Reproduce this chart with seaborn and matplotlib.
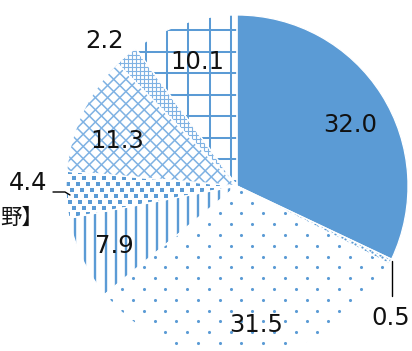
import numpy as np
import matplotlib
matplotlib.use("Agg")
import matplotlib.pyplot as plt
from matplotlib.collections import LineCollection
from matplotlib.patches import Wedge
import seaborn as sns

# Shares (%) going clockwise from 12 o'clock
shares = [32.0, 0.5, 31.5, 7.9, 4.4, 11.3, 2.2, 10.1]
share_labels = ["32.0", "0.5", "31.5", "7.9", "4.4", "11.3", "2.2", "10.1"]
fills = ["solid", "fine_dots", "dots", "vlines", "squares", "diag_cross", "fine_grid", "grid"]
side_label = "野】"

sns.set_theme(style="white")
plt.rcParams["font.family"] = ["DejaVu Sans", "Noto Sans CJK JP"]

W, H = 412, 351
BLUE = "#5B9BD5"
LIGHT = "#7FB2E3"

fig = plt.figure(figsize=(W / 100, H / 100), dpi=100)
ax = fig.add_axes([0, 0, 1, 1])


def py(y):
    """pixel row (top-down) -> data y (bottom-up)"""
    return H - np.asarray(y, dtype=float)


cx, cy, R = 237, py(186), 171
wedges, _ = ax.pie(shares, startangle=90, counterclock=False, center=(cx, cy), radius=R,
                   colors=["white"] * len(shares),
                   wedgeprops=dict(edgecolor="none", linewidth=0))
ax.set_xlim(0, W)
ax.set_ylim(0, H)
ax.set_aspect("equal")
ax.axis("off")


def add_lines(wedge, segs, color, lw):
    lc = LineCollection(segs, colors=color, linewidths=lw, zorder=2, capstyle="butt")
    ax.add_collection(lc)
    lc.set_clip_path(wedge)


def add_marks(wedge, xs, ys, marker, size, color):
    sc = ax.scatter(xs, ys, s=size, marker=marker, c=color, linewidths=0, zorder=2)
    sc.set_clip_path(wedge)


def stagger(x0, y0, dx, dy, shift=None):
    shift = dx / 2 if shift is None else shift
    xs, ys = [], []
    for j, yy in enumerate(np.arange(y0 - 40 * dy, H + 20, dy)):
        off = (j * shift) % dx
        for xx in np.arange(x0 - 40 * dx + off, W + 20, dx):
            xs.append(xx)
            ys.append(yy)
    return np.array(xs), py(ys)


for w, kind in zip(wedges, fills):
    if kind == "solid":
        w.set_facecolor(BLUE)
    elif kind == "grid":
        segs = [[(x, -10), (x, H + 10)] for x in np.arange(167 - 21.3 * 8, W, 21.3)]
        segs += [[(-10, py(y)), (W + 10, py(y))] for y in np.arange(30 - 21.5 * 2, H + 20, 21.5)]
        add_lines(w, segs, BLUE, 1.45)
    elif kind == "vlines":
        segs = [[(x, -10), (x, H + 10)] for x in np.arange(85 - 10.3 * 2, W, 10.3)]
        add_lines(w, segs, BLUE, 1.7)
    elif kind == "diag_cross":
        segs = []
        for c in np.arange(-600, 900, 12.2):
            segs.append([(c, py(0)), (c + 400, py(400))])
            segs.append([(c, py(0)), (c - 400, py(400))])
        add_lines(w, segs, LIGHT, 1.1)
    elif kind == "fine_grid":
        segs = [[(x, -10), (x, H + 10)] for x in np.arange(0, W, 4.0)]
        segs += [[(-10, y), (W + 10, y)] for y in np.arange(0, H, 4.0)]
        add_lines(w, segs, LIGHT, 0.8)
    elif kind == "dots":
        xs, ys = stagger(198, 235, 21.7, 10.8)
        add_marks(w, xs, ys, "o", 5.0, BLUE)
    elif kind == "fine_dots":
        xs, ys = stagger(0, 0, 5.0, 2.6)
        add_marks(w, xs, ys, "o", 2.6, BLUE)
    elif kind == "squares":
        xs, ys = stagger(70, 172, 10.0, 6.0, shift=4.0)
        add_marks(w, xs, ys, "s", 11.5, BLUE)

# thin white separators between the slices
for w in wedges:
    ax.add_patch(Wedge(w.center, w.r, w.theta1, w.theta2, fill=False,
                       edgecolor="white", linewidth=0.9, zorder=3))

# value labels
label_pos = {
    "32.0": (350, 125), "0.5": (391, 318), "31.5": (256, 325), "7.9": (114, 246),
    "4.4": (28, 183), "11.3": (117, 141), "2.2": (105, 41), "10.1": (197, 62),
}
for lab in share_labels:
    x, y = label_pos[lab]
    ax.text(x, py(y), lab, ha="center", va="center", fontsize=17.5, color="#111111", zorder=5)

# leader lines for the narrow slices
ax.plot([392.5, 392.5], py([261, 296]), color="black", lw=1.0, zorder=4)
ax.plot([53, 65, 70], py([192, 192, 195]), color="black", lw=1.0, zorder=4)

ax.text(0.5, py(218), side_label, ha="left", va="center", fontsize=15.5, color="#111111")

fig.savefig("out.png", dpi=100)
